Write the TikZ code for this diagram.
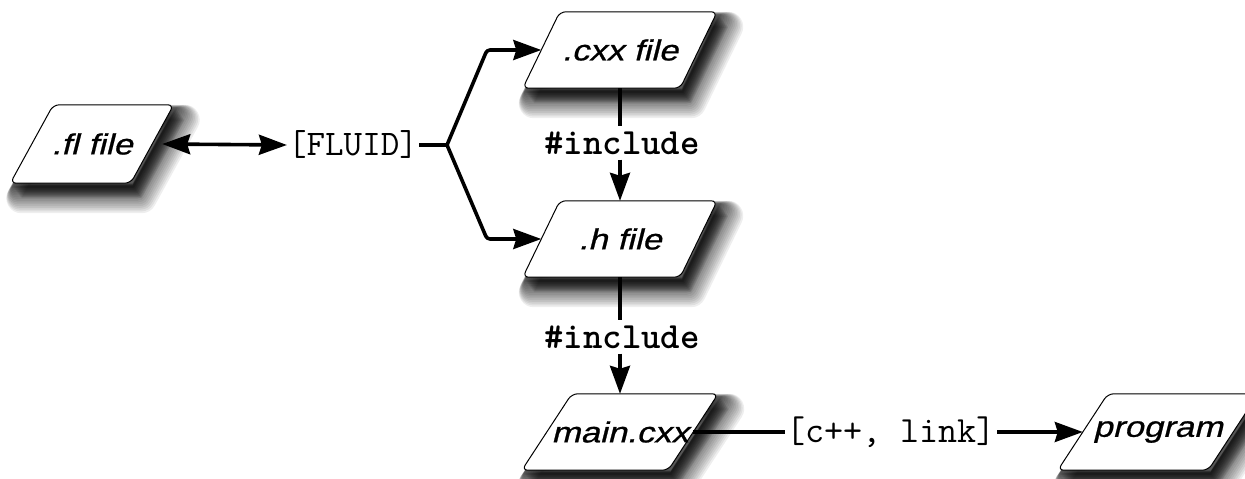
\documentclass[tikz,border=0pt]{standalone}
\usepackage{fontspec}
\newfontfamily\boxfont[FakeSlant=0.25,FakeStretch=1.2,FakeBold=0.8]{Liberation Sans}
\usetikzlibrary{arrows.meta,calc}
\pgfdeclarelayer{bg}
\pgfsetlayers{bg,main}
\tikzset{
  filenode/.style={rectangle, inner sep=0pt, minimum height=76pt,
    font=\boxfont\fontsize{29}{32}\selectfont},
  lbl/.style={inner xsep=1pt, inner ysep=5pt, font=\ttfamily\fontsize{37}{40}\selectfont},
  conn/.style={line width=3.6pt},
  tip/.tip={Stealth[length=28pt,width=20pt,inset=3pt]},
  arr/.style={conn, -tip},
  darr/.style={conn, tip-tip},
  pshadow/.style={black, opacity=0.065, line join=round},
  pframe/.style={fill=white, draw=black, line width=1pt, rounded corners=6pt},
}
\newcommand\pbox[2]{%
  \begin{pgfonlayer}{bg}
    \foreach \k in {1,...,15}{%
      \pgfmathsetmacro\dx{0.6*\k+2}%
      \pgfmathsetmacro\dy{-0.8*\k-3}%
      \pgfmathsetmacro\lw{2*\k}%
      \filldraw[pshadow, line width=\lw pt]
        ([xshift=#2pt+\dx pt,yshift=\dy pt]#1.north west) --
        ([xshift=#2pt+\dx pt,yshift=\dy pt]#1.north east) --
        ([xshift=-#2pt+\dx pt,yshift=\dy pt]#1.south east) --
        ([xshift=-#2pt+\dx pt,yshift=\dy pt]#1.south west) -- cycle;}
    \filldraw[pframe]
        ([xshift=#2pt]#1.north west) -- ([xshift=#2pt]#1.north east) --
        ([xshift=-#2pt]#1.south east) -- ([xshift=-#2pt]#1.south west) -- cycle;
  \end{pgfonlayer}}
\begin{document}
\begin{tikzpicture}[x=1pt,y=-1pt]
\useasboundingbox (0,0) rectangle (1245,479);
\begin{pgfonlayer}{bg}
  \fill[white] (0,0) rectangle (1245,479);
\end{pgfonlayer}

% file nodes
\node[filenode, minimum width=120pt, minimum height=78pt] (fl) at (92,144) {.fl file};
\node[filenode, minimum width=157pt] (cxx) at (620,50) {.cxx file};
\node[filenode, minimum width=157pt] (h) at (620,239) {.h file};
\node[filenode, minimum width=146pt] (mainc) at (620,432) {main.cxx};
\node[filenode, minimum width=150pt] (prog) at (1158,432) {program};
\pbox{fl}{21.5}
\pbox{cxx}{18.5}
\pbox{h}{18.5}
\pbox{mainc}{25}
\pbox{prog}{25}

% labels
\node[lbl, font=\ttfamily\fontsize{36}{40}\selectfont] (fluid) at (353,145) {[FLUID]};
\node[lbl] (inc1) at (622,143) {\bfseries\#include};
\node[lbl] (inc2) at (622,337) {\bfseries\#include};
\node[lbl] (link) at (891,432) {[c++, link]};

% connectors
\coordinate (br) at (447,145);
\coordinate (bu) at (487,50);
\coordinate (bd) at (487,239);
\draw[darr] ([xshift=10pt]fl.east) -- (fluid.west);
\draw[conn] (fluid.east) -- (br);
\draw[arr, rounded corners=3pt] (br) -- (bu) -- (cxx.west);
\draw[arr, rounded corners=3pt] (br) -- (bd) -- (h.west);
\draw[conn] (cxx.south) -- (cxx.south |- inc1.north);
\draw[arr] (cxx.south |- inc1.south) -- (h.north);
\draw[conn] (h.south) -- (h.south |- inc2.north);
\draw[arr] (h.south |- inc2.south) -- (mainc.north);
\draw[conn] (mainc.east) -- (link.west);
\draw[arr] (link.east) -- (prog.west);
\end{tikzpicture}
\end{document}
